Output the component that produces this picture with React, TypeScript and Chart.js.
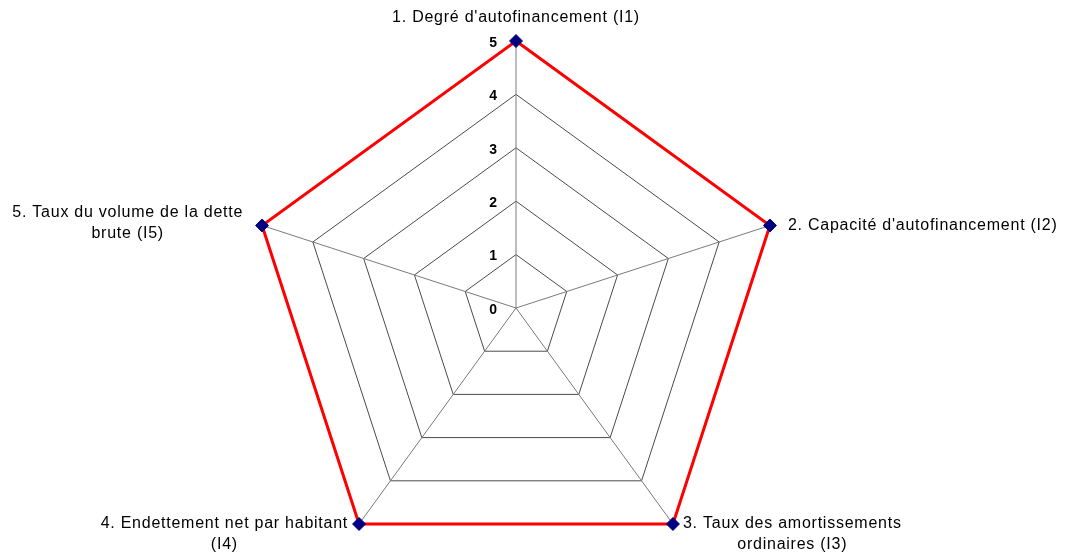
import React, { useEffect, useRef } from "react";
import { Chart, registerables } from "chart.js";

Chart.register(...registerables);

const categories: string[][] = [
  ["1. Degré d'autofinancement (I1)"],
  ["2. Capacité d'autofinancement (I2)"],
  ["3. Taux des amortissements", "ordinaires (I3)"],
  ["4. Endettement net par habitant", "(I4)"],
  ["5. Taux du volume de la dette", "brute (I5)"],
];
const values = [5, 5, 5, 5, 5];
const scaleMin = 0;
const scaleMax = 5;
const scaleStep = 1;

const labelPlugin = {
  id: "customLabels",
  afterDraw(chart: any) {
    const scale = chart.scales.r;
    const ctx = chart.ctx as CanvasRenderingContext2D;
    ctx.save();
    // tick labels
    ctx.font = "bold 14px 'Liberation Sans', Arial, sans-serif";
    ctx.fillStyle = "#000";
    ctx.textAlign = "right";
    ctx.textBaseline = "middle";
    scale.ticks.forEach((t: any) => {
      const d = scale.getDistanceFromCenterForValue(t.value);
      ctx.fillText(String(t.value), scale.xCenter - 19, scale.yCenter - d + 2);
    });
    // point labels
    ctx.font = "16px 'Liberation Sans', Arial, sans-serif";
    (ctx as any).letterSpacing = "0.75px";
    const labels = chart.data.labels as string[][];
    labels.forEach((lines, i) => {
      const p = scale.getPointPosition(i, scale.drawingArea);
      const w0 = ctx.measureText(lines[0]).width;
      ctx.textBaseline = "middle";
      if (i === 0) {
        ctx.textAlign = "center";
        ctx.fillText(lines[0], p.x, p.y - 23);
      } else if (i === 1) {
        ctx.textAlign = "left";
        ctx.fillText(lines[0], p.x + 18, p.y);
      } else {
        ctx.textAlign = "center";
        let cx = 0;
        let y0 = p.y;
        if (i === 2) cx = p.x + 10 + w0 / 2;
        else if (i === 3) cx = p.x - 11 - w0 / 2;
        else {
          cx = p.x - 19 - w0 / 2;
          y0 = p.y - 13;
        }
        lines.forEach((ln, k) => ctx.fillText(ln, cx, y0 + k * 21));
      }
    });
    ctx.restore();
  },
};

export default function App() {
  const ref = useRef<HTMLCanvasElement>(null);
  useEffect(() => {
    if (!ref.current) return;
    const chart = new Chart(ref.current, {
      type: "radar",
      data: {
        labels: categories as any,
        datasets: [
          {
            data: values,
            borderColor: "#FF0000",
            borderWidth: 3,
            fill: false,
            pointStyle: "rectRot",
            pointRadius: 6.5,
            pointBackgroundColor: "#000080",
            pointBorderColor: "#000080",
            pointBorderWidth: 1,
          },
        ],
      },
      options: {
        responsive: false,
        animation: false,
        layout: { padding: { top: 41, bottom: 0, left: 0, right: 34 } },
        plugins: { legend: { display: false }, tooltip: { enabled: false } },
        scales: {
          r: {
            min: scaleMin,
            max: scaleMax,
            ticks: { stepSize: scaleStep, display: false },
            pointLabels: { display: false },
            grid: { color: "#4a4a4a", lineWidth: 1, circular: false },
            angleLines: { color: "#7a7a7a", lineWidth: 1 },
          },
        },
      },
      plugins: [labelPlugin],
    });
    return () => chart.destroy();
  }, []);
  return (
    <div
      style={{
        position: "fixed",
        left: 0,
        top: 0,
        width: 1066,
        height: 554,
        overflow: "hidden",
        background: "#fff",
      }}
    >
      <canvas ref={ref} width={1066} height={575} style={{ display: "block" }} />
    </div>
  );
}
